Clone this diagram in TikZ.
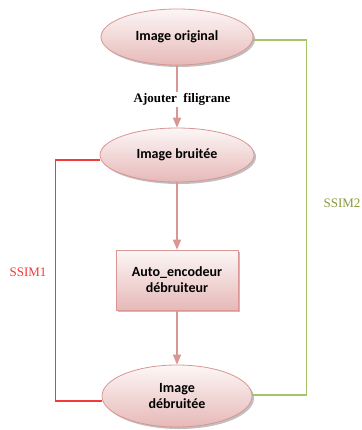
\documentclass[tikz,border=0pt]{standalone}
\usepackage{fontspec}
\setmainfont{Liberation Serif}
\newfontfamily\calibri{Carlito}
\usetikzlibrary{arrows,shapes.geometric}
\definecolor{rosefill}{HTML}{E6B9B8}
\definecolor{roseline}{HTML}{D99694}
\definecolor{ssimred}{HTML}{F23A3A}
\definecolor{ssimgreen}{HTML}{A4C46A}
\definecolor{ssimtext}{HTML}{8A9A3A}

\begin{document}
\begin{tikzpicture}[x=1pt,y=1pt,>=triangle 45,
  shaded/.style={draw=roseline,line width=0.8pt,top color=rosefill!12,bottom color=rosefill,
    preaction={fill=black!25,transform canvas={shift={(2pt,-2pt)}}},
    font=\calibri\fontsize{14}{16}\selectfont\bfseries,align=center,inner sep=0pt},
  oval/.style={shaded,ellipse},
  box/.style={shaded,rectangle,minimum width=122pt,minimum height=60pt},
  flow/.style={->,draw=roseline,color=roseline,line width=1.3pt},
  ssim/.style={font=\fontsize{13}{15}\selectfont}]
  \useasboundingbox (0,0) rectangle (361,-430);

  \node[oval,minimum width=152pt,minimum height=56pt] (orig) at (177,-37) {Image original};
  \node[oval,minimum width=154pt,minimum height=54pt] (noisy) [below of=orig,node distance=118pt] {Image bruitée};
  \node[box] (ae) [below of=noisy,node distance=125pt] {Auto\_encodeur\\débruiteur};
  \node[oval,minimum width=150pt,minimum height=62pt] (clean) [below of=ae,node distance=116pt] {Image\\débruitée};

  \path[flow] (orig) edge node[fill=white,text=black,xshift=5pt,yshift=-3pt,inner sep=1pt,
    font=\fontsize{13}{15}\selectfont\bfseries] {Ajouter\ \ filigrane} (noisy);
  \path[flow] (noisy) edge (ae);
  \path[flow] (ae) edge (clean);

  \draw[color=ssimred,line width=1.5pt] ([yshift=-5pt]noisy.west) -- ++(-44,0) |- ([yshift=-5pt]clean.west);
  \draw[color=ssimgreen,line width=1.2pt] ([yshift=-3pt]orig.east) -- ++(53,0) |- ([yshift=1pt]clean.east);

  \node[ssim,text=ssimred] (s1) at (28,-272) {SSIM1};
  \node[ssim,text=ssimtext] (s2) at (342,-203) {SSIM2};
\end{tikzpicture}
\end{document}
